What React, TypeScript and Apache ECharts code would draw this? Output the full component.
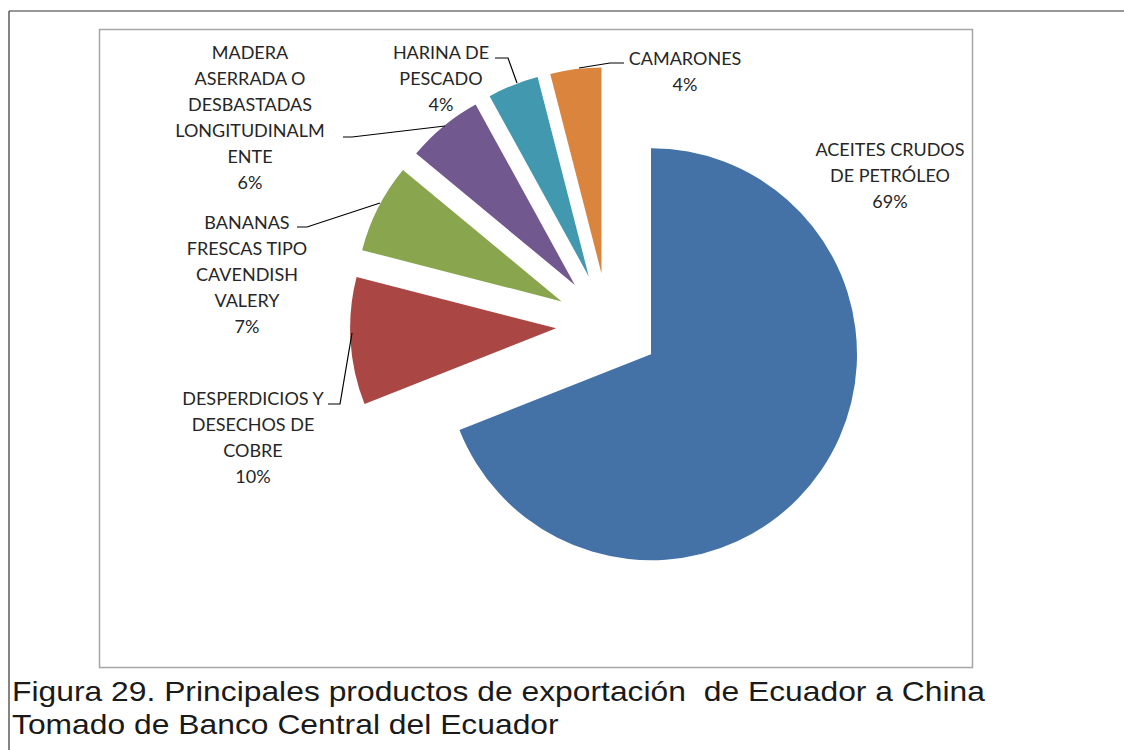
import React, { useEffect, useRef } from "react";
import * as echarts from "echarts";

const categories = [
  "ACEITES CRUDOS DE PETRÓLEO",
  "DESPERDICIOS Y DESECHOS DE COBRE",
  "BANANAS FRESCAS TIPO CAVENDISH VALERY",
  "MADERA ASERRADA O DESBASTADAS LONGITUDINALMENTE",
  "HARINA DE PESCADO",
  "CAMARONES",
];
const values = [69, 10, 7, 6, 4, 4];
const labelTexts = [
  "ACEITES CRUDOS\nDE PETRÓLEO",
  "DESPERDICIOS Y\nDESECHOS DE\nCOBRE",
  "BANANAS\nFRESCAS TIPO\nCAVENDISH\nVALERY",
  "MADERA\nASERRADA O\nDESBASTADAS\nLONGITUDINALM\nENTE",
  "HARINA DE\nPESCADO",
  "CAMARONES",
];
const colors = ["#4472A6", "#AA4643", "#89A54E", "#71588F", "#4198AF", "#DB843D"];
const captionLines = [
  "Figura 29. Principales productos de exportación  de Ecuador a China",
  "Tomado de Banco Central del Ecuador",
];

// label layout (centres of label blocks and leader line points, in pixels)
const labelCenters = [
  [890, 175],
  [253, 437],
  [247, 274],
  [250, 117],
  [441, 78],
  [685, 71],
];
const leaderLines: (number[][] | null)[] = [
  null,
  [[328, 404], [340, 404], [352, 333]],
  [[297, 227], [307, 227], [380, 203]],
  [[343, 137], [352, 137], [445, 126]],
  [[495, 58], [508, 58], [517, 83]],
  [[579, 68], [610, 63], [624, 63]],
];

export default function App() {
  const ref = useRef<HTMLDivElement>(null);
  useEffect(() => {
    if (!ref.current) return;
    const chart = echarts.init(ref.current, undefined, { renderer: "svg" });
    const total = values.reduce((a, b) => a + b, 0);
    const labelGraphics: any[] = [];
    categories.forEach((_, i) => {
      labelGraphics.push({
        type: "text",
        x: labelCenters[i][0],
        y: labelCenters[i][1],
        z: 10,
        style: {
          text: labelTexts[i] + "\n" + Math.round((values[i] / total) * 100) + "%",
          font: "18px Lato, sans-serif",
          lineHeight: 26,
          fill: "#262626",
          align: "center",
          verticalAlign: "middle",
        },
      });
      const pts = leaderLines[i];
      if (pts) {
        labelGraphics.push({
          type: "polyline",
          z: 10,
          shape: { points: pts },
          style: { stroke: "#000", lineWidth: 1.2, fill: "none" },
        });
      }
    });
    chart.setOption({
      animation: false,
      backgroundColor: "#ffffff",
      graphic: [
        { type: "line", shape: { x1: 9, y1: 11, x2: 1124, y2: 11 }, style: { stroke: "#333", lineWidth: 1.2 } },
        { type: "line", shape: { x1: 9, y1: 11, x2: 9, y2: 750 }, style: { stroke: "#333", lineWidth: 1.2 } },
        {
          type: "rect",
          shape: { x: 99.5, y: 29.5, width: 873, height: 638 },
          style: { fill: "none", stroke: "#a6a6a6", lineWidth: 1.5 },
          z: -1,
        },
        {
          type: "text",
          x: 12,
          y: 691,
          scaleX: 1.137,
          style: {
            text: captionLines[0],
            font: '28px "Liberation Sans", Arial, sans-serif',
            fill: "#1a1a1a",
            verticalAlign: "middle",
          },
        },
        {
          type: "text",
          x: 12,
          y: 724,
          scaleX: 1.137,
          style: {
            text: captionLines[1],
            font: '28px "Liberation Sans", Arial, sans-serif',
            fill: "#1a1a1a",
            verticalAlign: "middle",
          },
        },
        ...labelGraphics,
      ],
      series: [
        {
          type: "pie",
          center: [608, 325],
          radius: [0, 206],
          startAngle: 90,
          clockwise: true,
          selectedMode: "multiple",
          selectedOffset: 52,
          silent: true,
          label: { show: false },
          labelLine: { show: false },
          data: categories.map((name, i) => ({
            name,
            value: values[i],
            selected: true,
            itemStyle: { color: colors[i] },
          })),
        },
      ],
    });
    return () => chart.dispose();
  }, []);
  return (
    <div
      ref={ref}
      style={{ position: "fixed", left: 0, top: 0, width: 1124, height: 750, background: "#fff" }}
    />
  );
}
